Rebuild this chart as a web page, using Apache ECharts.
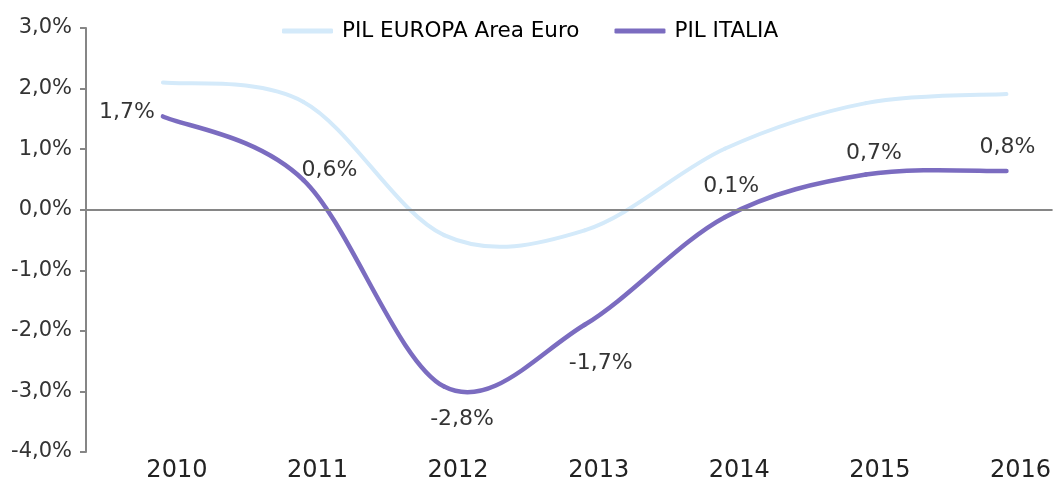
<!DOCTYPE html>
<html>
<head>
<meta charset="utf-8">
<script src="https://cdn.jsdelivr.net/npm/echarts@6/dist/echarts.min.js"></script>
<style>
  html, body { margin: 0; padding: 0; background: #fff; }
  #chart { width: 1054px; height: 485px; }
</style>
</head>
<body>
<div id="chart"></div>
<script>
// values
const years = ['2010', '2011', '2012', '2013', '2014', '2015', '2016'];
const euroValues = [2.10, 1.78, -0.42, -0.34, 1.01, 1.76, 1.91];
const italyValues = [1.54, 0.49, -2.92, -1.90, -0.12, 0.58, 0.64];
const italyLabels = ['1,7%', '0,6%', '-2,8%', '-1,7%', '0,1%', '0,7%', '0,8%'];
const yTicks = [-4, -3, -2, -1, 0, 1, 2, 3];

// where each data label sits relative to its point
const labelOffsets = [[-36, -4], [26, -10], [18, 33], [16, 38], [6, -31], [8, -21], [1, -24]];

const font = '"DejaVu Sans", sans-serif';
const fmtPct = v => v.toFixed(1).replace('.', ',') + '%';
const EURO = '#d4eafa', ITALY = '#7b6cc0';

// spreadsheet-style smoothed line: one catmull-rom bezier piece per point
function smoothPiece(values, color, width) {
    return function (params, api) {
        const n = values.length, i = params.dataIndex;
        if (i >= n - 1) return null;
        const pt = k => { k = Math.max(0, Math.min(n - 1, k)); return api.coord([+years[k], values[k]]); };
        const p0 = pt(i - 1), p1 = pt(i), p2 = pt(i + 1), p3 = pt(i + 2);
        return {
            type: 'bezierCurve',
            shape: {
                x1: p1[0], y1: p1[1], x2: p2[0], y2: p2[1],
                cpx1: p1[0] + (p2[0] - p0[0]) / 6, cpy1: p1[1] + (p2[1] - p0[1]) / 6,
                cpx2: p2[0] - (p3[0] - p1[0]) / 6, cpy2: p2[1] - (p3[1] - p1[1]) / 6
            },
            style: { stroke: color, lineWidth: width, fill: 'none', lineCap: 'round' }
        };
    };
}

const chart = echarts.init(document.getElementById('chart'));
chart.setOption({
    animation: false,
    textStyle: { fontFamily: font },
    legend: {
        left: 277, top: 15, itemWidth: 51, itemHeight: 5, itemGap: 35,
        icon: 'roundRect',
        textStyle: { fontSize: 21.5, color: '#000', fontFamily: font, padding: [0, 0, 0, 4] },
        data: ['PIL EUROPA Area Euro', 'PIL ITALIA']
    },
    grid: { left: 86, right: 0, top: 28, bottom: 33, containLabel: false },
    xAxis: {
        type: 'value', min: 2009.453, max: 2016.328,
        axisLine: { show: false }, axisTick: { show: false }, splitLine: { show: false },
        axisLabel: {
            customValues: years.map(Number), formatter: v => String(v),
            fontSize: 24, color: '#222', margin: 7, padding: [0, 0, 0, 28]
        }
    },
    yAxis: {
        type: 'value', min: -4, max: 3, interval: 1,
        axisLine: { show: true, lineStyle: { color: '#868686', width: 2 } },
        axisTick: { show: true, length: 6, lineStyle: { color: '#868686', width: 2 } },
        splitLine: { show: false },
        axisLabel: { formatter: fmtPct, fontSize: 21, color: '#333', margin: 14, customValues: yTicks }
    },
    series: [
        {
            name: 'PIL EUROPA Area Euro', type: 'custom',
            itemStyle: { color: EURO },
            renderItem: smoothPiece(euroValues, EURO, 4),
            encode: { x: 0, y: 1 },
            data: years.map((y, i) => [+y, euroValues[i]])
        },
        {
            name: 'PIL ITALIA', type: 'custom', z: 3,
            itemStyle: { color: ITALY },
            renderItem: smoothPiece(italyValues, ITALY, 4.5),
            encode: { x: 0, y: 1 },
            data: years.map((y, i) => [+y, italyValues[i]])
        },
        {
            name: 'labels', type: 'scatter', z: 4,
            symbol: 'circle', symbolSize: 0.01, itemStyle: { color: ITALY },
            data: years.map((y, i) => ({
                value: [+y, italyValues[i]],
                label: {
                    show: true, position: 'inside', offset: labelOffsets[i],
                    formatter: italyLabels[i], fontSize: 22, color: '#000', fontFamily: font
                }
            })),
            markLine: {
                silent: true, symbol: 'none', label: { show: false },
                lineStyle: { color: '#868686', width: 2, type: 'solid' },
                data: [{ yAxis: 0 }]
            }
        }
    ]
});
</script>
</body>
</html>
